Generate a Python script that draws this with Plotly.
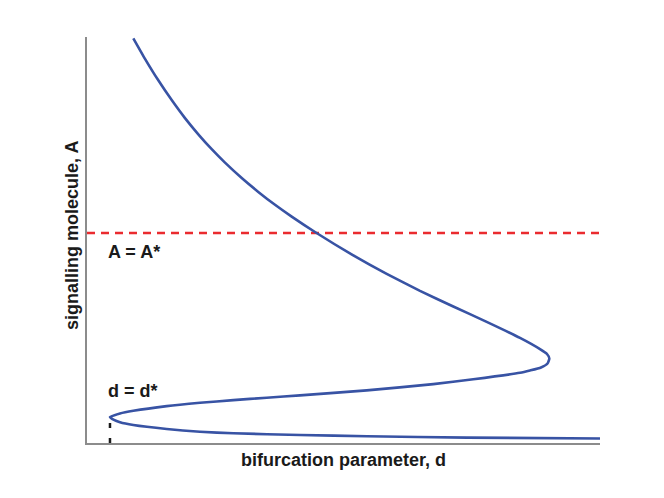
import plotly.graph_objects as go

# Bifurcation curve (d, A), arbitrary units 0..10
d_curve = [0.903, 1.131, 1.390, 1.651, 1.910, 2.170, 2.431, 2.690, 3.016, 3.339,
           3.665, 3.990, 4.444, 5.191, 5.842, 6.491, 7.140, 7.791, 8.441, 8.830,
           8.967, 9.012, 8.977, 8.850, 8.635, 8.441, 7.530, 6.750, 5.452, 4.152,
           3.503, 2.852, 2.203, 1.554, 0.903, 0.643, 0.448, 0.526, 0.643, 0.903,
           1.554, 2.203, 2.852, 4.152, 5.458, 7.407, 10.0]
A_curve = [9.968, 9.463, 8.933, 8.446, 8.002, 7.603, 7.236, 6.906, 6.527, 6.185,
           5.867, 5.576, 5.197, 4.621, 4.165, 3.746, 3.362, 2.983, 2.589, 2.313,
           2.192, 2.081, 1.958, 1.860, 1.786, 1.729, 1.569, 1.451, 1.296, 1.172,
           1.116, 1.057, 0.990, 0.909, 0.793, 0.727, 0.640, 0.567, 0.510, 0.443,
           0.345, 0.278, 0.239, 0.197, 0.167, 0.133, 0.111]

A_star = 5.17      # threshold of signalling molecule
d_star = 0.448     # bifurcation point
A_at_d_star = 0.640

x_title = "bifurcation parameter, d"
y_title = "signalling molecule, A"
label_A = "A = A*"
label_d = "d = d*"

fig = go.Figure()

fig.add_trace(go.Scatter(
    x=[0, 10], y=[A_star, A_star], mode="lines",
    line=dict(color="#ea2b2f", width=2.5, dash="8px,6px"),
    hoverinfo="skip", showlegend=False))

fig.add_trace(go.Scatter(
    x=[d_star, d_star], y=[0, A_at_d_star], mode="lines",
    line=dict(color="#1a1a1a", width=2.5, dash="5px,10px"),
    hoverinfo="skip", showlegend=False))

fig.add_trace(go.Scatter(
    x=d_curve, y=A_curve, mode="lines",
    line=dict(color="#3853a4", width=2.6, shape="spline", smoothing=0.5),
    hoverinfo="skip", showlegend=False))

axis_common = dict(showline=True, linecolor="#8c8c8c", linewidth=1.5,
                   showgrid=False, zeroline=False, showticklabels=False,
                   ticks="", range=[0, 10], fixedrange=True)

fig.update_layout(
    width=656, height=490,
    margin=dict(l=79, r=64, t=29, b=55),
    paper_bgcolor="white", plot_bgcolor="white",
    xaxis=axis_common, yaxis=axis_common,
    font=dict(family="Liberation Sans, Arial, sans-serif", color="#1a1a1a"),
    annotations=[
        dict(text="<b>%s</b>" % x_title, xref="paper", yref="paper",
             x=0.5, y=0, yshift=-17, xanchor="center", yanchor="middle",
             showarrow=False, font=dict(size=18)),
        dict(text="<b>%s</b>" % y_title, xref="paper", yref="paper",
             x=0, xshift=-15, y=0.51, xanchor="center", yanchor="middle",
             textangle=-90, showarrow=False, font=dict(size=18)),
        dict(text="<b>%s</b>" % label_A, xref="x", yref="y",
             x=0.38, y=A_star, yshift=-19, xanchor="left", yanchor="middle",
             showarrow=False, font=dict(size=18)),
        dict(text="<b>%s</b>" % label_d, xref="x", yref="y",
             x=0.38, y=A_at_d_star, yshift=26, xanchor="left", yanchor="middle",
             showarrow=False, font=dict(size=18)),
    ],
)

fig.write_html("out.html")
